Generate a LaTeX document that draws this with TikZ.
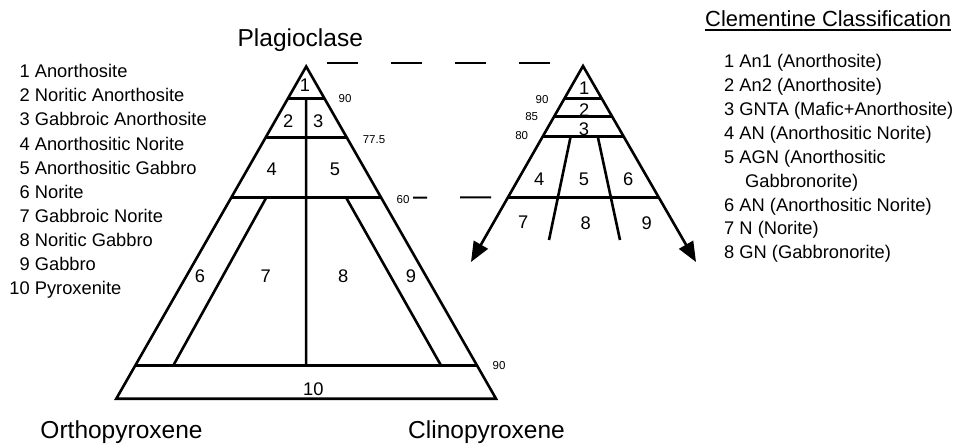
\documentclass[tikz,border=0pt]{standalone}
\usepackage{fontspec}
\setmainfont{Liberation Sans}
\usetikzlibrary{arrows.meta, calc}
\tikzset{
  % --- Tam giac ---------------------------------------------
  triline/.style={line width=2.6pt},
  tridash/.style={line width=2pt, dash pattern=on 31pt off 33pt},
  triarr/.style={line width=2.6pt,
    {Triangle[length=20pt, width=16pt]}-{Triangle[length=20pt, width=16pt]}},
  % --- Chu --------------------------------------------------
  cornerlbl/.style={font=\fontsize{24.5}{29}\selectfont, inner sep=0pt},
  fieldno/.style={font=\fontsize{18.3}{22}\selectfont, inner sep=0pt},
  pctlbl/.style={font=\fontsize{11.5}{14}\selectfont, inner sep=1pt, fill=white},
  listtxt/.style={font=\fontsize{18.3}{22}\selectfont, inner sep=0pt, anchor=base west},
  titletxt/.style={font=\fontsize{21.9}{26}\selectfont, inner sep=0pt, anchor=base west}
}
\begin{document}
\begin{tikzpicture}[x=1pt, y=-1pt]
  \useasboundingbox (0,0) rectangle (963,447);

  % --- Tam giac ben trai ---------------------------------------------
  \coordinate (P) at (306.2,66.5);
  \coordinate (O) at (116.3,398.7);
  \coordinate (C) at (496,398.7);
  \draw[triline] (P) -- (O) -- (C) -- cycle;

  \foreach \t/\k in {0.096/a, 0.214/b, 0.395/c, 0.9/d} {
    \coordinate (l\k) at ($(P)!\t!(O)$);
    \coordinate (r\k) at ($(P)!\t!(C)$);
    \draw[triline] (l\k) -- (r\k);
  }
  \draw[triline] ($(la)!0.5!(ra)$) -- ($(ld)!0.5!(rd)$);
  \draw[triline] ($(lc)+(35,0)$) -- ($(ld)+(38,0)$);
  \draw[triline] ($(rc)+(-35,0)$) -- ($(rd)+(-36,0)$);

  \node[fieldno] (f1) at (305,85) {1};
  \node[fieldno] (f2) at (288.3,120.7) {2};
  \node[fieldno] (f3) at (318.3,120.7) {3};
  \node[fieldno] (f4) at (271.7,169.3) {4};
  \node[fieldno] (f5) at (335,169.3) {5};
  \node[fieldno] (f6) at (200,276) {6};
  \node[fieldno] (f7) at (265.7,276) {7};
  \node[fieldno] (f8) at (343.3,276) {8};
  \node[fieldno] (f9) at (411,276) {9};
  \node[fieldno] (f10) at (313.3,389.3) {10};

  % --- Tam giac Clementine -------------------------------------------
  \coordinate (Q) at (583,66);
  \coordinate (L) at (471,262);
  \coordinate (R) at (696,262);
  \draw[triarr] (L) -- (Q) -- (R);

  \foreach \t/\k in {0.165/a, 0.257/b, 0.361/c, 0.670/d} {
    \coordinate (p\k) at ($(Q)!\t!(L)$);
    \coordinate (q\k) at ($(Q)!\t!(R)$);
    \draw[triline] (p\k) -- (q\k);
  }
  \coordinate (ul) at (549,240);
  \coordinate (ur) at (620,240);
  \draw[triline] ($(pc)!0.345!(qc)$) -- (ul);
  \draw[triline] ($(pc)!0.68!(qc)$) -- (ur);

  \node[fieldno] (g1) at (584.3,88.3) {1};
  \node[fieldno] (g2) at (584.3,110) {2};
  \node[fieldno] (g3) at (584,129.3) {3};
  \node[fieldno] (g4) at (539.3,179.3) {4};
  \node[fieldno] (g5) at (584,179.3) {5};
  \node[fieldno] (g6) at (628.3,179.3) {6};
  \node[fieldno] (g7) at (523.3,222.7) {7};
  \node[fieldno] (g8) at (585.7,222.7) {8};
  \node[fieldno] (g9) at (646.7,222.7) {9};

  % --- Duong noi net dut ---------------------------------------------
  \draw[tridash] ($(P)+(21,-3.5)$) -- ($(Q)+(-32,-3)$);
  \draw[tridash] ($(rc)+(15,0)$) -- ($(pd)+(-14,0)$);

  % --- Nhan phan tram ------------------------------------------------
  \node[pctlbl] (v90) at (345,98.5) {90};
  \node[pctlbl] (v775) at (374,139.3) {77.5};
  \node[pctlbl, inner xsep=4pt] (v60) at (403,199.3) {60};
  \node[pctlbl] (v90b) at (499,366) {90};
  \node[pctlbl] (w90) at (542,99.3) {90};
  \node[pctlbl] (w85) at (531.7,116.7) {85};
  \node[pctlbl] (w80) at (521.7,135.7) {80};

  % --- Dinh tam giac -------------------------------------------------
  \node[cornerlbl, anchor=base] (plag) at (300.3,46.7) {Plagioclase};
  \node[cornerlbl, anchor=base] (opx) at (121.5,438.5) {Orthopyroxene};
  \node[cornerlbl, anchor=base west] (cpx) at (408,438.7) {Clinopyroxene};

  % --- Chu giai ben trai ---------------------------------------------
  \foreach \n/\t [count=\i from 0] in {1/Anorthosite, 2/Noritic Anorthosite,
      3/Gabbroic Anorthosite, 4/Anorthositic Norite, 5/Anorthositic Gabbro,
      6/Norite, 7/Gabbroic Norite, 8/Noritic Gabbro, 9/Gabbro, 10/Pyroxenite}
    \node[listtxt] (rock\n) at (29.6,77.7+24.1*\i) {\makebox[0pt][r]{\n} \t};

  % --- Chu giai Clementine -------------------------------------------
  \node[titletxt] (clem) at (705,26.7) {Clementine Classification};
  \draw[line width=1.5pt] ([yshift=-3.3pt]clem.base west) -- ([yshift=-3.3pt]clem.base east);

  \node[listtxt] (cl1) at (724,67.6) {1 An1 (Anorthosite)};
  \node[listtxt] (cl2) at (724,91.5) {2 An2 (Anorthosite)};
  \node[listtxt] (cl3) at (724,115.4) {3 GNTA (Mafic+Anorthosite)};
  \node[listtxt] (cl4) at (724,139.3) {4 AN (Anorthositic Norite)};
  \node[listtxt] (cl5) at (724,163.2) {5 AGN (Anorthositic};
  \node[listtxt] (cl5b) at (745,187.1) {Gabbronorite)};
  \node[listtxt] (cl6) at (724,211) {6 AN (Anorthositic Norite)};
  \node[listtxt] (cl7) at (724,234.9) {7 N (Norite)};
  \node[listtxt] (cl8) at (724,258.8) {8 GN (Gabbronorite)};

\end{tikzpicture}
\end{document}
